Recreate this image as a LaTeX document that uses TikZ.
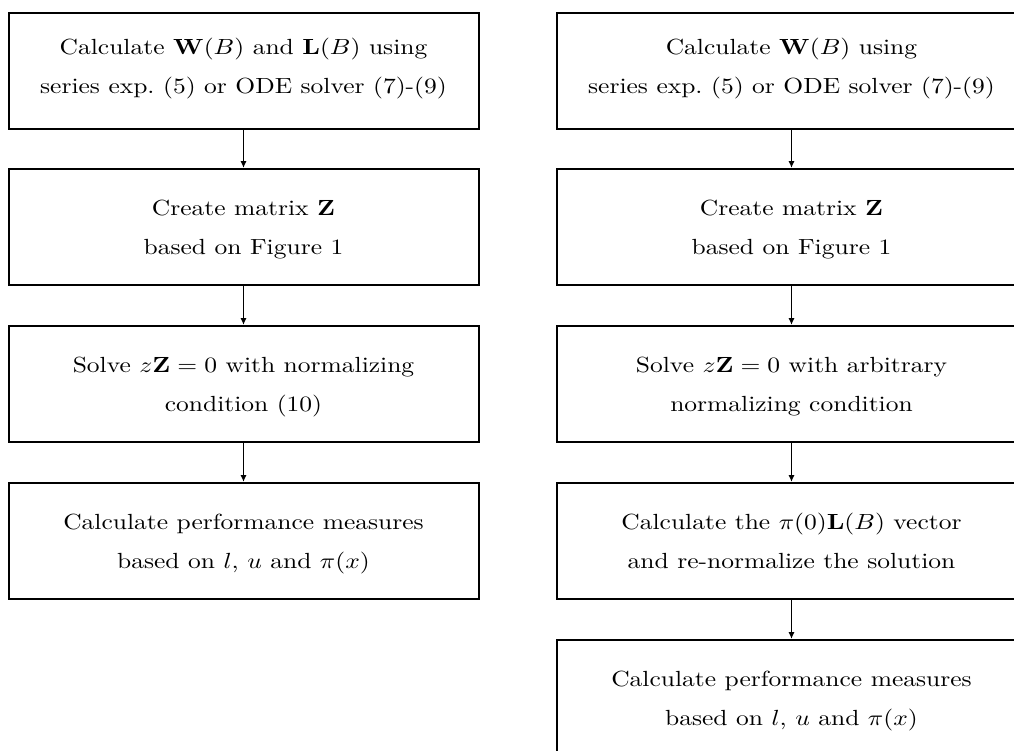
\documentclass[tikz,border=0pt]{standalone}
\usepackage{graphicx}
\usetikzlibrary{arrows.meta}
\newcommand\boxtext[1]{\scalebox{1.165}[1]{\fontsize{10.95}{19.5}\selectfont\begin{tabular}{@{}c@{}}#1\end{tabular}}}
\newcommand\boxtextup[1]{\boxtext{#1}\rule[-20.75pt]{0pt}{0pt}}
\begin{document}
\begin{tikzpicture}[x=0.5pt,y=-0.5pt,
 box/.style={draw, line width=1pt, minimum width=235pt, minimum height=58pt, align=center, inner sep=0pt},
 arr/.style={-{Latex[length=3.4pt,width=3pt]}, line width=0.9pt}]
\useasboundingbox (0,0) rectangle (1014,751);
\clip (0,0) rectangle (1014,751);
\node[box] (a1) at (243.5,70.5) {\boxtextup{Calculate $\mathbf{W}(B)$ and $\mathbf{L}(B)$ using\\series exp.\ (5) or ODE solver (7)-(9)}};
\node[box] (a2) at (243.5,227) {\boxtext{Create matrix $\mathbf{Z}$\\based on Figure 1}};
\node[box] (a3) at (243.5,384) {\boxtext{Solve $z\mathbf{Z}=0$ with normalizing\\condition (10)}};
\node[box] (a4) at (243.5,541) {\boxtext{Calculate performance measures\\based on $l$, $u$ and $\pi(x)$}};
\node[box] (b1) at (791.5,70.5) {\boxtextup{Calculate $\mathbf{W}(B)$ using\\series exp.\ (5) or ODE solver (7)-(9)}};
\node[box] (b2) at (791.5,227) {\boxtext{Create matrix $\mathbf{Z}$\\based on Figure 1}};
\node[box] (b3) at (791.5,384) {\boxtext{Solve $z\mathbf{Z}=0$ with arbitrary\\normalizing condition}};
\node[box] (b4) at (791.5,541) {\boxtext{Calculate the $\pi(0)\mathbf{L}(B)$ vector\\and re-normalize the solution}};
\node[box] (b5) at (791.5,698) {\boxtext{Calculate performance measures\\based on $l$, $u$ and $\pi(x)$}};
\draw[arr] (a1) -- (a2);
\draw[arr] (a2) -- (a3);
\draw[arr] (a3) -- (a4);
\draw[arr] (b1) -- (b2);
\draw[arr] (b2) -- (b3);
\draw[arr] (b3) -- (b4);
\draw[arr] (b4) -- (b5);
\end{tikzpicture}
\end{document}
